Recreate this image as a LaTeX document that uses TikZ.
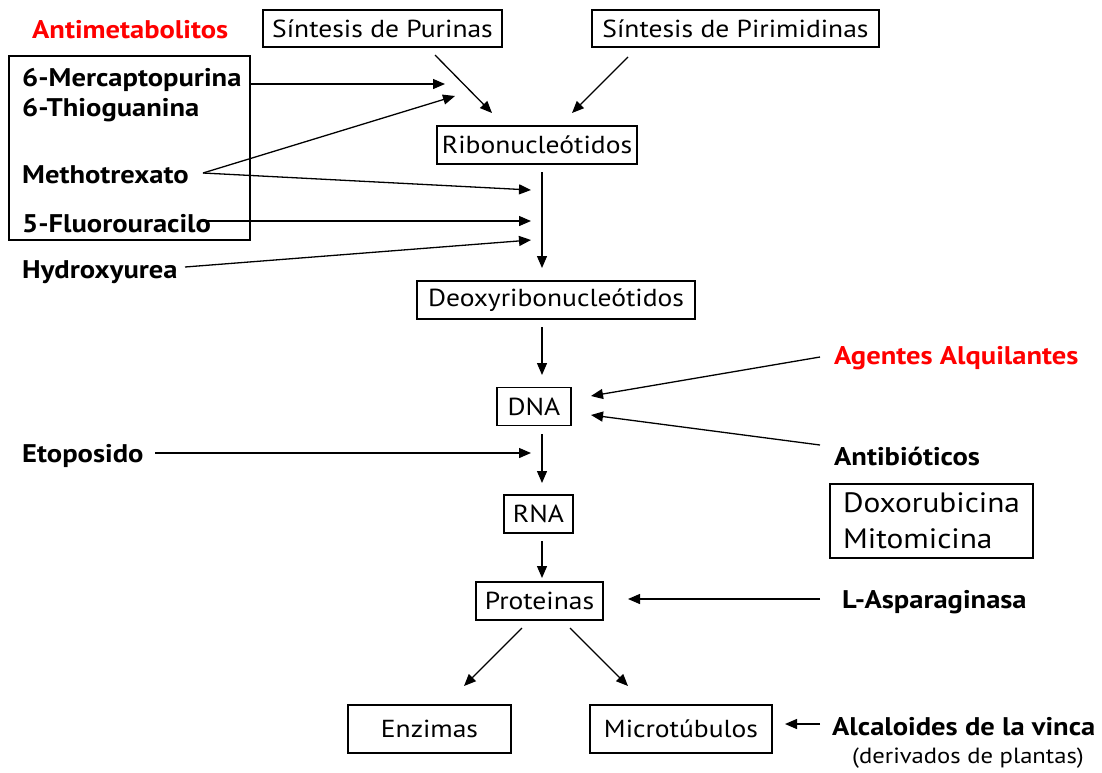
\documentclass[tikz,border=0pt]{standalone}
\usepackage{fontspec}
\setmainfont{PT Sans}[FakeStretch=1.12]
\usetikzlibrary{arrows.meta}
\begin{document}
\begin{tikzpicture}[x=1pt,y=-1pt,
 box/.style={draw, line width=1.3pt, inner sep=0pt, font=\fontsize{24.6}{28}\selectfont},
 lbl/.style={inner sep=0pt, anchor=west, font=\bfseries\fontsize{25.5}{28}\selectfont},
 redlbl/.style={lbl, text=red},
 arr/.style={line width=1.3pt, -{Triangle[length=12pt,width=10pt]}},
]
\useasboundingbox (0,0) rectangle (1102,772);
% boxes
\node[box, minimum width=239pt, minimum height=37pt] (pur) at (382.5,28.5) {Síntesis de Purinas};
\node[box, minimum width=287pt, minimum height=37pt] (pir) at (735.5,28.5) {Síntesis de Pirimidinas};
\node[box, minimum width=200pt, minimum height=38pt] (ribo) at (537,145) {Ribonucleótidos};
\node[box, minimum width=278pt, minimum height=38pt] (deoxy) at (556,300) {Deoxyribonucleótidos};
\node[box, minimum width=74pt, minimum height=38pt] (dna) at (534,406.5) {DNA};
\node[box, minimum width=69pt, minimum height=38pt] (rna) at (538.5,514) {RNA};
\node[box, minimum width=127pt, minimum height=38pt] (prot) at (539.5,601) {Proteinas};
\node[box, minimum width=163pt, minimum height=48pt] (enz) at (429.5,729) {Enzimas};
\node[box, minimum width=182pt, minimum height=48pt] (micro) at (681,729) {Microtúbulos};
\node[box, minimum width=203pt, minimum height=74pt, align=left, font=\fontsize{28}{36}\selectfont] (dox) at (931.5,521) {Doxorubicina\\Mitomicina};
\node[draw, line width=1.3pt, minimum width=241pt, minimum height=184pt, inner sep=0pt] (antibox) at (129.5,148) {};
% labels
\node[redlbl] (anti) at (32,30) {Antimetabolitos};
\node[lbl] (mp) at (22,80) {6-Mercaptopurina};
\node[lbl] (tg) at (22,110) {6-Thioguanina};
\node[lbl] (meth) at (22,175) {Methotrexato};
\node[lbl] (fu) at (22,224) {5-Fluorouracilo};
\node[lbl] (hu) at (22,272) {Hydroxyurea};
\node[redlbl] (alq) at (834,358) {Agentes Alquilantes};
\node[lbl] (antib) at (834,456) {Antibióticos};
\node[lbl] (eto) at (22,456) {Etoposido};
\node[lbl] (lasp) at (842,602) {L-Asparaginasa};
\node[lbl] (alc) at (832,727) {Alcaloides de la vinca};
\node[inner sep=0pt, font=\fontsize{22}{24}\selectfont] (deriv) at (968,758) {(derivados de plantas)};
% coordinates
\coordinate (mpS) at (250,84);
\coordinate (mpE) at (445,84);
\coordinate (methS) at (203,173);
\coordinate (methE1) at (455,96);
\coordinate (methE2) at (531,190);
\coordinate (fuS) at (200,221);
\coordinate (fuE) at (531,221);
\coordinate (huS) at (185,267);
\coordinate (huE) at (531,240);
\coordinate (purS) at (435,55);
\coordinate (purE) at (492,113);
\coordinate (pirS) at (628,57);
\coordinate (pirE) at (572,113);
\coordinate (riboS) at (542,172);
\coordinate (riboE) at (542,268);
\coordinate (deoxS) at (542,327);
\coordinate (deoxE) at (542,375);
\coordinate (alqS) at (820,357);
\coordinate (alqE) at (591,396);
\coordinate (antS) at (820,445);
\coordinate (antE) at (591,415);
\coordinate (etoS) at (155,453);
\coordinate (etoE) at (531,453);
\coordinate (dnaS) at (542,434);
\coordinate (dnaE) at (542,483);
\coordinate (rnaS) at (542,541);
\coordinate (rnaE) at (542,578);
\coordinate (laspS) at (820,599);
\coordinate (laspE) at (628,599);
\coordinate (pe1S) at (522,628);
\coordinate (pe1E) at (464,686);
\coordinate (pe2S) at (570,628);
\coordinate (pe2E) at (628,686);
\coordinate (alcS) at (820,724);
\coordinate (alcE) at (785,724);
% arrows
\draw[arr] (mpS) -- (mpE);
\draw[arr] (methS) -- (methE1);
\draw[arr] (methS) -- (methE2);
\draw[arr] (fuS) -- (fuE);
\draw[arr] (huS) -- (huE);
\draw[arr] (purS) -- (purE);
\draw[arr] (pirS) -- (pirE);
\draw[arr] (riboS) -- (riboE);
\draw[arr] (deoxS) -- (deoxE);
\draw[arr] (alqS) -- (alqE);
\draw[arr] (antS) -- (antE);
\draw[arr] (etoS) -- (etoE);
\draw[arr] (dnaS) -- (dnaE);
\draw[arr] (rnaS) -- (rnaE);
\draw[arr] (laspS) -- (laspE);
\draw[arr] (pe1S) -- (pe1E);
\draw[arr] (pe2S) -- (pe2E);
\draw[arr] (alcS) -- (alcE);
\end{tikzpicture}
\end{document}
